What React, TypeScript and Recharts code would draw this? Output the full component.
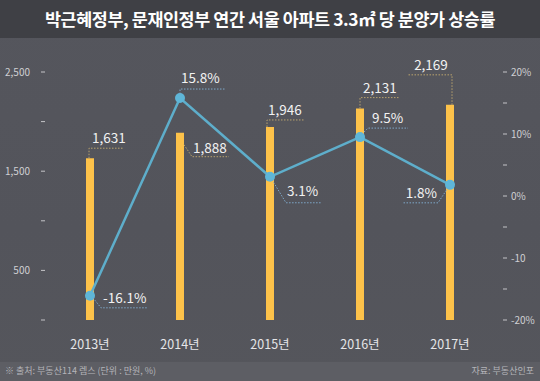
import React from 'react';
import { Bar, ComposedChart, LabelList, Line, XAxis, YAxis } from 'recharts';

const years = ['2013년', '2014년', '2015년', '2016년', '2017년'];
const prices = [1631, 1888, 1946, 2131, 2169];
const rates = [-16.1, 15.8, 3.1, 9.5, 1.8];

const leftTicks = [0, 500, 1000, 1500, 2000, 2500];
const leftLabels: Record<number, string> = { 500: '500', 1500: '1,500', 2500: '2,500' };
const rightTicks = [-20, -15, -10, -5, 0, 5, 10, 15, 20];
const rightLabels: Record<number, string> = { 20: '20%', 10: '10%', 0: '0%', '-10': '-10', '-20': '-20%' };

const data = years.map((year, i) => ({ year, price: prices[i], rate: rates[i] }));

const FONT = "'Noto Sans CJK KR', 'Noto Sans', sans-serif";
const BAR = '#fdc24a';
const LINE = '#5eaecb';
const TXT = '#f2f2f2';

// leader line shapes, offsets from the anchor point (bar top centre / dot)
type Leader = { pts: number[][]; tx: number; ty: number; anchor?: 'start' | 'end' | 'middle' };

const barLeaders: Leader[] = [
  { pts: [[-1, 0], [-1, -10], [33, -10]], tx: 2, ty: -15 },
  { pts: [[4, 12], [12, 24], [49, 24]], tx: 13, ty: 20 },
  { pts: [[-3, 0], [-3, -7], [35, -7]], tx: -2, ty: -12 },
  { pts: [[0, 0], [0, -11], [40, -11]], tx: 3, ty: -16 },
  { pts: [[2, 0], [2, -30], [-42, -30]], tx: -19, ty: -35, anchor: 'middle' },
];

const rateLeaders: Leader[] = [
  { pts: [[3, 2], [11, 12], [57, 12]], tx: 13, ty: 7 },
  { pts: [[0, -4], [0, -9], [45, -9]], tx: 1, ty: -15 },
  { pts: [[2, 3], [16, 26], [52, 26]], tx: 17, ty: 19 },
  { pts: [[2, -3], [8, -9], [48, -9]], tx: 12, ty: -14 },
  { pts: [[-2, 3], [-12, 18], [-47, 18]], tx: -13, ty: 13, anchor: 'end' },
];

function LeaderLabel(props: any) {
  const { x, y, width, value, index, kind } = props;
  const cx = kind === 'bar' ? x + width / 2 : x;
  const l = (kind === 'bar' ? barLeaders : rateLeaders)[index];
  const text = kind === 'bar' ? Number(value).toLocaleString('en-US') : `${Number(value).toFixed(1)}%`;
  const stroke = kind === 'bar' ? '#b9a36e' : '#7ea7c8';
  return (
    <g>
      <polyline
        points={l.pts.map(([dx, dy]) => `${cx + dx},${y + dy}`).join(' ')}
        fill="none"
        stroke={stroke}
        strokeWidth={1}
        strokeDasharray="1.5 1.5"
      />
      <text x={cx + l.tx} y={y + l.ty} fill={TXT} fontSize={13.5} fontFamily={FONT} textAnchor={l.anchor || 'start'}>
        {text}
      </text>
    </g>
  );
}

function LeftTick(props: any) {
  const { x, y, payload } = props;
  const label = leftLabels[payload.value];
  return (
    <g>
      <line x1={x - 4} x2={x} y1={y} y2={y} stroke="#c4c4c8" strokeWidth={1} />
      {label && (
        <text x={x - 15} y={y + 4} fill="#cfcfd3" fontSize={10} fontFamily={FONT} textAnchor="end">
          {label}
        </text>
      )}
    </g>
  );
}

function RightTick(props: any) {
  const { x, y, payload } = props;
  const label = rightLabels[payload.value];
  return (
    <g>
      <line x1={x + 8} x2={x + 12} y1={y} y2={y} stroke="#c4c4c8" strokeWidth={1} />
      {label && (
        <text x={x + 16} y={y + 4} fill="#cfcfd3" fontSize={10} fontFamily={FONT} textAnchor="start">
          {label}
        </text>
      )}
    </g>
  );
}

function YearTick(props: any) {
  const { x, y, payload } = props;
  return (
    <text x={x} y={y + 29} fill="#e6e6e8" fontSize={12.5} fontFamily={FONT} textAnchor="middle">
      {payload.value}
    </text>
  );
}

export default function App() {
  return (
    <div
      style={{
        position: 'absolute',
        left: 0,
        top: 0,
        width: 540,
        height: 381,
        overflow: 'hidden',
        background: 'linear-gradient(180deg, #55565d 0%, #53545b 60%, #55565c 100%)',
        fontFamily: FONT,
      }}
    >
      <div
        style={{
          position: 'absolute',
          left: 0,
          top: 0,
          width: 540,
          height: 38,
          background: '#3f4045',
          color: '#ffffff',
          fontSize: 17.4,
          fontWeight: 700,
          textAlign: 'center',
          lineHeight: '38px',
          letterSpacing: -0.4,
        }}
      >
        박근혜정부, 문재인정부 연간 서울 아파트 3.3㎡ 당 분양가 상승률
      </div>
      <div style={{ position: 'absolute', left: 0, top: 362, width: 540, height: 19, background: '#5d5e64' }} />
      <div style={{ position: 'absolute', left: 0, top: 0 }}>
        <ComposedChart width={540} height={381} data={data} margin={{ top: 72, right: 0, bottom: 0, left: 0 }}>
          <XAxis
            dataKey="year"
            height={61}
            axisLine={false}
            tickLine={false}
            tickSize={0}
            tickMargin={0}
            tick={<YearTick />}
            interval={0}
          />
          <YAxis
            yAxisId="left"
            width={45}
            domain={[0, 2500]}
            ticks={leftTicks}
            axisLine={false}
            tickLine={false}
            tickSize={0}
            tickMargin={0}
            tick={<LeftTick />}
            interval={0}
          />
          <YAxis
            yAxisId="right"
            orientation="right"
            width={45}
            domain={[-20, 20]}
            ticks={rightTicks}
            axisLine={false}
            tickLine={false}
            tickSize={0}
            tickMargin={0}
            tick={<RightTick />}
            interval={0}
          />
          <Bar yAxisId="left" dataKey="price" fill={BAR} barSize={8} isAnimationActive={false}>
            <LabelList dataKey="price" content={<LeaderLabel kind="bar" />} />
          </Bar>
          <Line
            yAxisId="right"
            dataKey="rate"
            stroke={LINE}
            strokeWidth={2.5}
            dot={{ r: 5, fill: '#5fb6d8', stroke: 'none' }}
            isAnimationActive={false}
          >
            <LabelList dataKey="rate" content={<LeaderLabel kind="rate" />} />
          </Line>
        </ComposedChart>
      </div>
      <div
        style={{
          position: 'absolute',
          left: 5,
          top: 364,
          fontSize: 9,
          color: '#b4b4b9',
          whiteSpace: 'nowrap',
        }}
      >
        ※ 출처: 부동산114 렙스 (단위 : 만원, %)
      </div>
      <div
        style={{
          position: 'absolute',
          right: 6,
          top: 364,
          fontSize: 9,
          color: '#b4b4b9',
          whiteSpace: 'nowrap',
        }}
      >
        자료: 부동산인포
      </div>
    </div>
  );
}
